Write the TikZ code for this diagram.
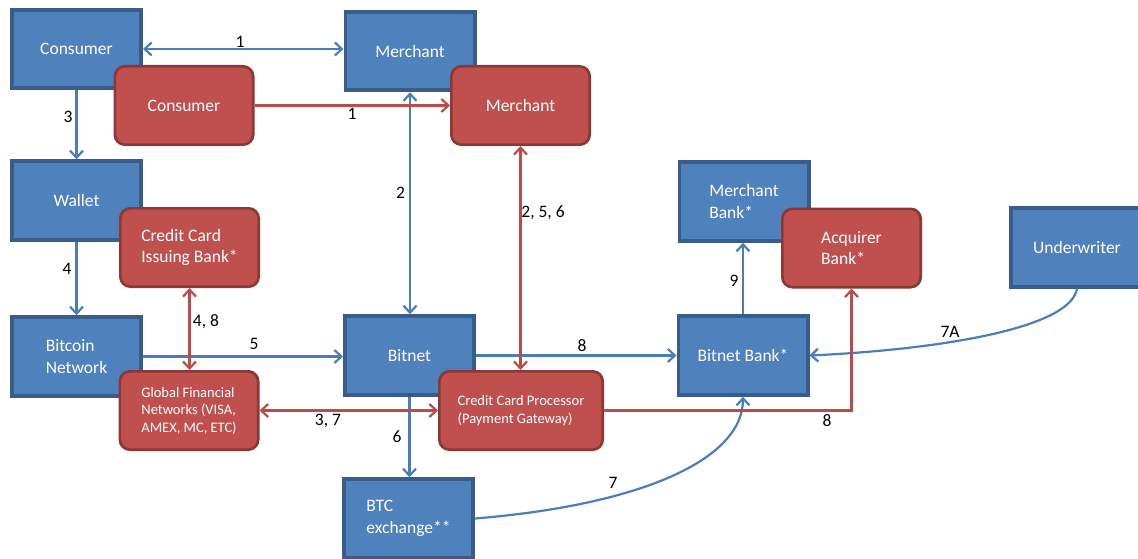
\documentclass[tikz,border=0pt]{standalone}
\usepackage{fontspec}
\setmainfont{Carlito}
\usetikzlibrary{arrows.meta}
\definecolor{bfill}{HTML}{4F81BD}
\definecolor{bdraw}{HTML}{385D8A}
\definecolor{rfill}{HTML}{C0504D}
\definecolor{rdraw}{HTML}{8C3836}
\definecolor{bline}{HTML}{4A7EBB}
\definecolor{rline}{HTML}{BE4B48}
\begin{document}
\begin{tikzpicture}[x=1pt,y=-1pt,
  >={Straight Barb[length=7pt,width=13pt]},
  bbox/.style={draw=bdraw,fill=bfill,line width=3.8pt,minimum width=129.2pt,
    minimum height=78.7pt,inner sep=0pt,align=left,text=white,
    font=\fontsize{17.5}{21.5}\selectfont},
  rbox/.style={draw=rdraw,fill=rfill,line width=2.7pt,rounded corners=10pt,
    minimum width=138.3pt,minimum height=78.3pt,inner sep=0pt,align=left,
    text=white,font=\fontsize{17.5}{21.5}\selectfont},
  smalltext/.style={font=\fontsize{14.5}{17.5}\selectfont},
  bcon/.style={draw=bline,line width=2.2pt},
  rcon/.style={draw=rline,line width=2.2pt},
  lbl/.style={inner sep=0pt,text=black,font=\fontsize{17.5}{21}\selectfont}
]
\useasboundingbox (0,0) rectangle (1138,559);
\clip (0,0) rectangle (1138,559);

% blue boxes
\node[bbox] (consB) at (76.5,49) {Consumer};
\node[bbox] (merB) at (410,51) {Merchant};
\node[bbox] (wallet) at (76.5,200.5) {Wallet};
\node[bbox] (btcnet) at (76.5,356.5) {Bitcoin\\Network};
\node[bbox] (bitnet) at (409.5,355.5) {Bitnet};
\node[bbox] (btcex) at (408.5,518.5) {BTC\\exchange**};
\node[bbox] (merbank) at (744,201.5) {Merchant\\Bank*};
\node[bbox] (bitnetbank) at (743,355.5) {Bitnet Bank*};
\node[bbox,minimum width=132.5pt] (underwriter) at (1077,247.5) {Underwriter};

% red boxes
\node[rbox] (consR) at (184,105.5) {Consumer};
\node[rbox] (merR) at (520.5,105.5) {Merchant};
\node[rbox] (ccib) at (189.5,247.5) {Credit Card\\Issuing Bank*};
\node[rbox,smalltext] (gfn) at (189,410.5) {Global Financial\\Networks (VISA,\\AMEX, MC, ETC)};
\node[rbox,smalltext,minimum width=163.3pt] (ccp) at (521,410.5) {Credit Card Processor\\(Payment Gateway)};
\node[rbox] (acq) at (851.5,248) {Acquirer\\Bank*};

% blue connectors
\draw[bcon,<->] (consB.east) -- (consB.east -| merB.west);
\draw[bcon,->] (consB.south) -- (wallet.north);
\draw[bcon,->] (wallet.south) -- (btcnet.north);
\draw[bcon,<->] (merB.south) -- (merB.south |- bitnet.north);
\draw[bcon,->] (btcnet.east) -- (btcnet.east -| bitnet.west);
\draw[bcon,->] (bitnet.east) -- (bitnetbank.west);
\draw[bcon,->] (bitnet.south) -- (bitnet.south |- btcex.north);
\draw[bcon,->] (bitnetbank.north) -- (bitnetbank.north |- merbank.south);
\draw[bcon,->] (btcex.east) .. controls (640,505) and (743,460) .. (bitnetbank.south);
\draw[bcon,->] (underwriter.south) .. controls (1070,330) and (930,350) .. (bitnetbank.east);

% red connectors
\draw[rcon,->] (consR.east) -- (merR.west);
\draw[rcon,<->] (merR.south) -- (merR.south |- ccp.north);
\draw[rcon,<->] (ccib.south) -- (ccib.south |- gfn.north);
\draw[rcon,<->] (gfn.east) -- (ccp.west);
\draw[rcon,->] (ccp.east) -| (acq.south);

% labels
\node[lbl] (t1b) at (240,42) {1};
\node[lbl] (t1r) at (352,114) {1};
\node[lbl] (t3) at (68,117) {3};
\node[lbl] (t4) at (67,269) {4};
\node[lbl] (t2) at (400.5,193) {2};
\node[lbl] (t256) at (543,213) {2, 5, 6};
\node[lbl] (t48) at (206,322) {4, 8};
\node[lbl] (t5) at (254,344) {5};
\node[lbl] (t8b) at (582,346) {8};
\node[lbl] (t37) at (328,421) {3, 7};
\node[lbl] (t6) at (397,437) {6};
\node[lbl] (t8r) at (827,421) {8};
\node[lbl] (t9) at (734,281) {9};
\node[lbl] (t7a) at (950,332) {7A};
\node[lbl] (t7) at (613,483) {7};
\end{tikzpicture}
\end{document}
